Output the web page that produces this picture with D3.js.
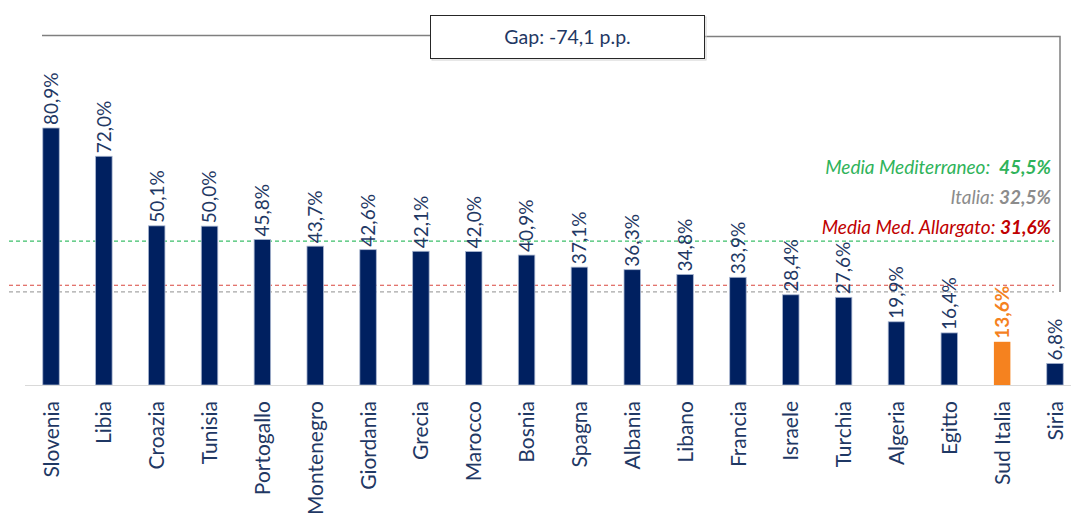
<!DOCTYPE html>
<html><head><meta charset="utf-8">
<script src="https://cdn.jsdelivr.net/npm/d3@7"></script>
<style>
html,body{margin:0;padding:0;background:#fff;}
svg{display:block;font-family:"Lato","Noto Sans",sans-serif;}
</style></head>
<body>
<svg id="chart" width="1071" height="523"></svg>
<script>
const categories = ["Slovenia","Libia","Croazia","Tunisia","Portogallo","Montenegro","Giordania","Grecia","Marocco","Bosnia","Spagna","Albania","Libano","Francia","Israele","Turchia","Algeria","Egitto","Sud Italia","Siria"];
const values = [80.9,72.0,50.1,50.0,45.8,43.7,42.6,42.1,42.0,40.9,37.1,36.3,34.8,33.9,28.4,27.6,19.9,16.4,13.6,6.8];
const highlight = "Sud Italia";
const refNames = ["Media Mediterraneo:","Italia:","Media Med. Allargato:"];
const refLabels = ["45,5%","32,5%","31,6%"];
const refPositions = [45.3,29.3,31.4]; // as drawn in the picture
const refColors = ["#2fb35a","#8c8c8c","#c00000"];
const refLineColors = ["#3cbf6a","#a6a6a6","#d9473f"];
const gapText = "Gap: -74,1 p.p.";
const fmt = v => v.toFixed(1).replace(".", ",") + "%";

const svg = d3.select("#chart");
const navy = "#002060", orange = "#f5821f", textNavy = "#1f3864";

const x = d3.scaleBand().domain(categories).range([24.6, 1081.4]).paddingInner(0.688).paddingOuter(0.344);
const y = d3.scaleLinear().domain([0, 80.9]).range([385, 128]);

// reference dashed lines
refPositions.forEach((v,i) => {
  svg.append("line").attr("x1", 9).attr("x2", 1054)
    .attr("y1", y(v)).attr("y2", y(v))
    .attr("stroke", refLineColors[i]).attr("stroke-width", 1.2)
    .attr("stroke-dasharray", "4,3");
});

// bars
svg.append("g").selectAll("rect").data(categories).join("rect")
  .attr("x", d => x(d)).attr("width", x.bandwidth())
  .attr("y", (d,i) => y(values[i])).attr("height", (d,i) => y(0) - y(values[i]))
  .attr("fill", d => d === highlight ? orange : navy)
  .attr("stroke", d => d === highlight ? "none" : "#a9b6d0").attr("stroke-width", 0.8);

// axis line
svg.append("line").attr("x1", 25).attr("x2", 1071).attr("y1", y(0)+0.5).attr("y2", y(0)+0.5)
  .attr("stroke", "#d9d9d9").attr("stroke-width", 1.2);

// category labels (axis)
const xAxis = d3.axisBottom(x).tickSize(0).tickPadding(0);
const ax = svg.append("g").attr("transform", `translate(0,${y(0)})`).call(xAxis);
ax.select(".domain").remove();
ax.selectAll("text")
  .attr("transform", "rotate(-90)")
  .attr("x", -16).attr("y", 0).attr("dy", "0.36em")
  .attr("text-anchor", "end")
  .attr("fill", textNavy)
  .style("font-family", '"Lato","Noto Sans",sans-serif')
  .style("font-size", "21px");

// value labels
svg.append("g").selectAll("text").data(categories).join("text")
  .attr("transform", (d,i) => `translate(${x(d)+x.bandwidth()/2},${y(values[i])-3}) rotate(-90)`)
  .attr("dy", "0.36em")
  .attr("text-anchor", "start")
  .attr("fill", d => d === highlight ? orange : textNavy)
  .attr("font-weight", d => d === highlight ? "bold" : "normal")
  .style("font-size", "19px")
  .text((d,i) => fmt(values[i]));

// legend texts
const legY = [174, 204, 234];
refNames.forEach((n,i) => {
  const t = svg.append("text").attr("x", 1051).attr("y", legY[i])
    .attr("text-anchor", "end").attr("fill", refColors[i])
    .style("font-style", "italic").style("font-size", "19px");
  t.append("tspan").text(n + (i===0 ? "\u00a0 " : " "));
  t.append("tspan").attr("font-weight", "bold").text(refLabels[i]);
});

// gap connector
const gy = 35.5;
svg.append("path")
  .attr("d", `M42,${gy}H430 M705,${gy+1}H1060V${y(refPositions[1])}`)
  .attr("fill", "none").attr("stroke", "#7f7f7f").attr("stroke-width", 1.5);
svg.append("rect").attr("x", 431).attr("y", 16).attr("width", 274).attr("height", 43)
  .attr("fill", "none").attr("stroke", "#d0d0d0").attr("stroke-width", 1).attr("transform","translate(1,1)");
svg.append("rect").attr("x", 430.5).attr("y", 15.5).attr("width", 274).attr("height", 43)
  .attr("fill", "#fff").attr("stroke", "#262626").attr("stroke-width", 1);
svg.append("text").attr("x", 567.5).attr("y", 43.5).attr("text-anchor", "middle")
  .attr("fill", textNavy).style("font-size", "19.5px").text(gapText);
</script>
</body></html>
